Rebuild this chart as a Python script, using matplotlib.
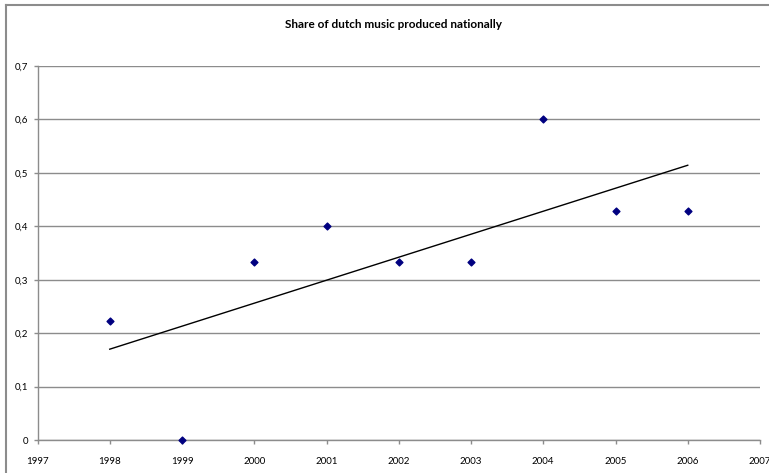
import numpy as np
import matplotlib.pyplot as plt
from matplotlib.ticker import FuncFormatter
from matplotlib.lines import Line2D

years = [1998, 1999, 2000, 2001, 2002, 2003, 2004, 2005, 2006]
share = [0.222, 0.0, 0.333, 0.4, 0.333, 0.333, 0.6, 0.429, 0.429]

plt.rcParams['font.family'] = ['Lato', 'DejaVu Sans']

fig = plt.figure(figsize=(7.69, 4.73), dpi=100)
ax = fig.add_axes([37.5 / 769, 33 / 473, (760 - 37.5) / 769, (440 - 66) / 473])

# chart frame (only top and left edges fall inside the image)
fig.add_artist(Line2D([6 / 769, 6 / 769], [0, 1 - 5 / 473], transform=fig.transFigure,
                      color='#8c8c8c', lw=1.5))
fig.add_artist(Line2D([6 / 769, 1], [1 - 5 / 473, 1 - 5 / 473], transform=fig.transFigure,
                      color='#8c8c8c', lw=1.5))

# linear trend
k, b = np.polyfit(years, share, 1)
xs = np.array([years[0], years[-1]])
ax.plot(xs, k * xs + b, color='black', lw=1, zorder=3)

ax.scatter(years, share, marker='D', s=12, color='#000080', zorder=4, clip_on=False)

ax.set_xlim(1997, 2007)
ax.set_ylim(0, 0.7)
ax.set_xticks(range(1997, 2008))
ax.set_yticks(np.arange(0, 0.71, 0.1))
ax.yaxis.set_major_formatter(FuncFormatter(lambda v, p: '0' if v == 0 else f'{v:.1f}'.replace('.', ',')))

ax.grid(axis='y', color='#8c8c8c', lw=1)
ax.set_axisbelow(True)
for s in ['top', 'right']:
    ax.spines[s].set_visible(False)
for s in ['left', 'bottom']:
    ax.spines[s].set_color('#8c8c8c')
    ax.spines[s].set_linewidth(1)
ax.tick_params(axis='both', colors='#8c8c8c', labelcolor='black', labelsize=7, length=3, width=1)
ax.tick_params(axis='x', pad=9)

fig.text(394 / 769, 1 - 25 / 473, 'Share of dutch music produced nationally',
         ha='center', va='center', fontsize=8.5, fontweight='bold')

fig.savefig('out.png', dpi=100)
